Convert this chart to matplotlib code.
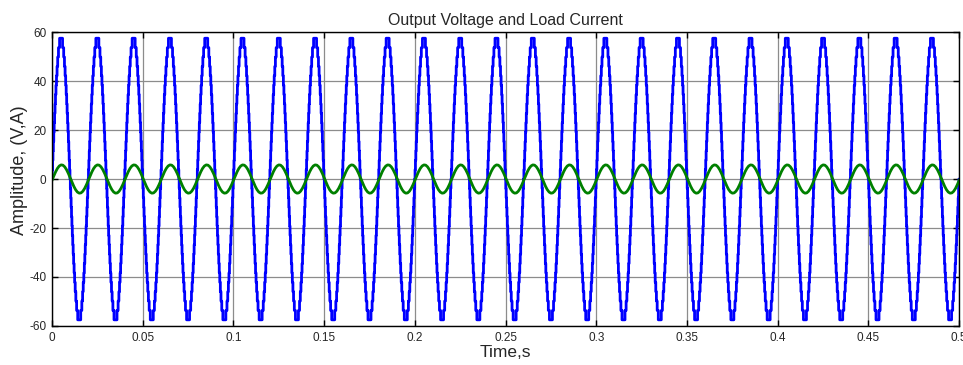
import numpy as np
import matplotlib
matplotlib.use("Agg")
from matplotlib import pyplot as plt

plt.rcParams['font.family'] = ['Liberation Sans', 'DejaVu Sans']
plt.rcParams['axes.unicode_minus'] = False

# waveform data
n_cycles = 25
period = 0.02  # s (50 Hz)

# quarter-wave staircase of the output voltage: switch times (ms) and levels (V)
step_times_ms = [0.106, 0.319, 0.533, 0.750, 0.970, 1.195, 1.426, 1.667,
                 1.917, 2.182, 2.468, 2.786, 3.136, 3.564, 4.176]
step_levels = [3.83, 7.67, 11.5, 15.33, 19.17, 23.0, 26.83, 30.67,
               34.5, 38.33, 42.17, 46.0, 49.83, 53.67, 57.5]

# load current, one period sampled every 1 ms (A)
current_ms = list(range(20))
current_vals = [-0.55, 1.27, 2.95, 4.35, 5.32, 5.77, 5.66, 4.99, 3.83, 2.31,
                0.55, -1.27, -2.95, -4.35, -5.32, -5.77, -5.66, -4.99, -3.83, -2.31]

x_ticks = [0, 0.05, 0.1, 0.15, 0.2, 0.25, 0.3, 0.35, 0.4, 0.45, 0.5]
x_labels = ['0', '0.05', '0.1', '0.15', '0.2', '0.25', '0.3', '0.35', '0.4', '0.45', '0.5']
y_ticks = [-60, -40, -20, 0, 20, 40, 60]

# build one period of the staircase by quarter-wave symmetry
half_ms = period * 1000 / 2
q_t = [0.0] + step_times_ms
q_v = [0.0] + step_levels
t_half = q_t + [half_ms - t for t in step_times_ms[::-1]]
v_half = q_v + step_levels[::-1][1:] + [0.0]
t_per = t_half + [half_ms + t for t in t_half]
v_per = v_half + [-v for v in v_half]

volt_t, volt_v = [], []
cur_t, cur_v = [], []
for k in range(n_cycles):
    off = k * period
    volt_t += [off + t / 1000 for t in t_per]
    volt_v += v_per
    cur_t += [off + t / 1000 for t in current_ms]
    cur_v += current_vals
volt_t.append(n_cycles * period)
volt_v.append(0.0)
cur_t.append(n_cycles * period)
cur_v.append(current_vals[0])

fig = plt.figure(figsize=(9.63, 3.65), dpi=100)
ax = fig.add_axes([0.054, 0.107, 0.942, 0.805])

ax.plot(volt_t, volt_v, color='#0000ff', lw=2.0, drawstyle='steps-post')
ax.plot(cur_t, cur_v, color='#008000', lw=2.0)

ax.set_xlim(0, 0.5)
ax.set_ylim(-60, 60)
ax.set_xticks(x_ticks)
ax.set_xticklabels(x_labels)
ax.set_yticks(y_ticks)
ax.grid(True, color='#8c8c8c', lw=0.9)
ax.set_axisbelow(True)
ax.tick_params(direction='in', top=True, right=True, length=4, width=1,
               labelsize=8.5, colors='black', labelcolor='#262626', pad=4)
for s in ax.spines.values():
    s.set_linewidth(1.0)

ax.set_title('Output Voltage and Load Current', fontsize=11.5, color='#262626', pad=5)
ax.set_xlabel('Time,s', fontsize=12.5, color='#262626', labelpad=1)
ax.set_ylabel('Amplitude, (V,A)', fontsize=13, color='#262626')
ax.yaxis.set_label_coords(-0.027, 0.53)

fig.savefig('out.png', dpi=100)
